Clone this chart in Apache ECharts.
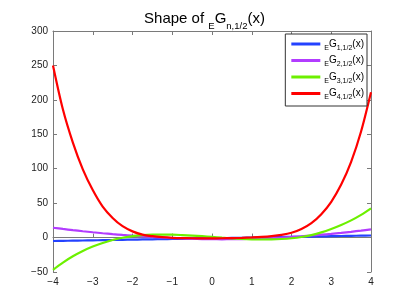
<!DOCTYPE html>
<html><head><meta charset="utf-8">
<script src="https://cdn.jsdelivr.net/npm/echarts@6/dist/echarts.min.js"></script>
<style>html,body{margin:0;padding:0;background:#fff}#c{width:409px;height:307px}</style>
</head><body><div id="c"></div>
<script>
const xValues = [-4,-3.75,-3.5,-3.25,-3,-2.75,-2.5,-2.25,-2,-1.75,-1.5,-1.25,-1,-0.75,-0.5,-0.25,0,0.25,0.5,0.75,1,1.25,1.5,1.75,2,2.25,2.5,2.75,3,3.25,3.5,3.75,4];
const g1 = [-5,-4.75,-4.5,-4.25,-4,-3.75,-3.5,-3.25,-3,-2.75,-2.5,-2.25,-2,-1.75,-1.5,-1.25,-1,-0.75,-0.5,-0.25,0,0.25,0.5,0.75,1,1.25,1.5,1.75,2,2.25,2.5,2.75,3];
const g2 = [14.3,12.5,10.8,9.2,7.7,6.3,5.0,3.8,2.7,1.7,0.8,0,-0.7,-1.3,-1.8,-2.2,-2.4,-2.5,-2.4,-2.2,-1.8,-1.3,-0.7,0,0.9,1.9,3.0,4.2,5.5,6.9,8.4,10.1,11.9];
const g3 = [-46.8,-36.3,-27.2,-19.5,-13.1,-7.8,-3.5,-0.2,2.2,3.6,4.3,4.4,4.2,3.6,2.9,2.0,1.0,-0.1,-1.1,-1.9,-2.5,-2.8,-2.7,-2.1,-1.0,0.8,3.6,7.5,12.5,18.3,25.0,33.0,42.5];
const g4 = [250,186,138,99,69,45,28.5,16.5,9,4.2,2.0,0.6,-0.3,-0.8,-1.0,-1.1,-1.1,-1.0,-0.8,-0.4,0.2,1.0,2.2,4.0,7.0,12.5,21,34,52,77,110,154,211];
const seriesIndexLabels = ['1','2','3','4'];
const seriesColors = ['#2442ff','#b23cff','#6cf000','#ff0000'];
const xTicks = [-4,-3,-2,-1,0,1,2,3,4];
const yTicks = [-50,0,50,100,150,200,250,300];

const allY = [g1,g2,g3,g4];
const fmt = v => String(v).replace('-', '\u2212');
const FONT = 'Liberation Sans, Arial, sans-serif';

const chart = echarts.init(document.getElementById('c'), null, {renderer:'canvas'});
const axisColor = '#7a7a7a';
const series = allY.map((ys, i) => ({
  name: 'G' + seriesIndexLabels[i],
  type: 'line',
  data: xValues.map((x, j) => [x, ys[j]]),
  showSymbol: false,
  symbol: 'none',
  smooth: 0.3,
  lineStyle: {width: 2.2, color: seriesColors[i]},
  itemStyle: {color: seriesColors[i]},
  z: 2 + i,
  animation: false
}));
chart.setOption({
  animation: false,
  backgroundColor: '#fff',
  title: {
    text: '{m|Shape of }{s|E}{m|G}{s|n,1/2}{m|(x)}',
    left: 'center', top: 2,
    textStyle: {
      fontWeight: 'normal',
      rich: {
        m: {fontFamily: FONT, fontSize: 15, fontWeight: 'normal', color: '#000'},
        s: {fontFamily: FONT, fontSize: 9.5, fontWeight: 'normal', color: '#000', padding: [14,0,0,0]}
      }
    }
  },
  grid: {left: 53, right: 38, top: 31, bottom: 35},
  xAxis: [{
    type: 'value', min: -4, max: 4, interval: 1,
    axisLine: {show: true, lineStyle: {color: axisColor, width: 1}},
    axisTick: {show: true, inside: true, length: 4, lineStyle: {color: axisColor}},
    axisLabel: {formatter: fmt, color: '#222', fontFamily: FONT, fontSize: 10, margin: 5},
    splitLine: {show: false}
  }, {
    type: 'value', position: 'top', min: -4, max: 4, interval: 1,
    axisLine: {show: true, onZero: false, lineStyle: {color: axisColor, width: 1}},
    axisTick: {show: true, inside: true, length: 4, lineStyle: {color: axisColor}},
    axisLabel: {show: false}, splitLine: {show: false}
  }],
  yAxis: [{
    type: 'value', min: -50, max: 300, interval: 50,
    axisLine: {show: true, onZero: false, lineStyle: {color: axisColor, width: 1}},
    axisTick: {show: true, inside: true, length: 4, lineStyle: {color: axisColor}},
    axisLabel: {formatter: fmt, color: '#222', fontFamily: FONT, fontSize: 10, margin: 5},
    splitLine: {show: false}
  }, {
    type: 'value', position: 'right', min: -50, max: 300, interval: 50,
    axisLine: {show: true, onZero: false, lineStyle: {color: axisColor, width: 1}},
    axisTick: {show: true, inside: true, length: 4, lineStyle: {color: axisColor}},
    axisLabel: {show: false}, splitLine: {show: false}
  }],
  legend: {
    orient: 'vertical', right: 42, top: 34,
    backgroundColor: '#fff', borderColor: '#333', borderWidth: 1, borderRadius: 0,
    padding: [5, 3, 5, 6], itemGap: 4, itemWidth: 29, itemHeight: 3, icon: 'rect',
    z: 10,
    formatter: name => '{s|E}{m|G}{s|' + name.slice(1) + ',1/2}{m|(x)}',
    textStyle: {
      padding: [0,0,0,-1],
      rich: {
        m: {fontFamily: FONT, fontSize: 10, color: '#000'},
        s: {fontFamily: FONT, fontSize: 7, color: '#000', padding: [8,0,0,0]}
      }
    }
  },
  series: series
});
</script>
</body></html>
